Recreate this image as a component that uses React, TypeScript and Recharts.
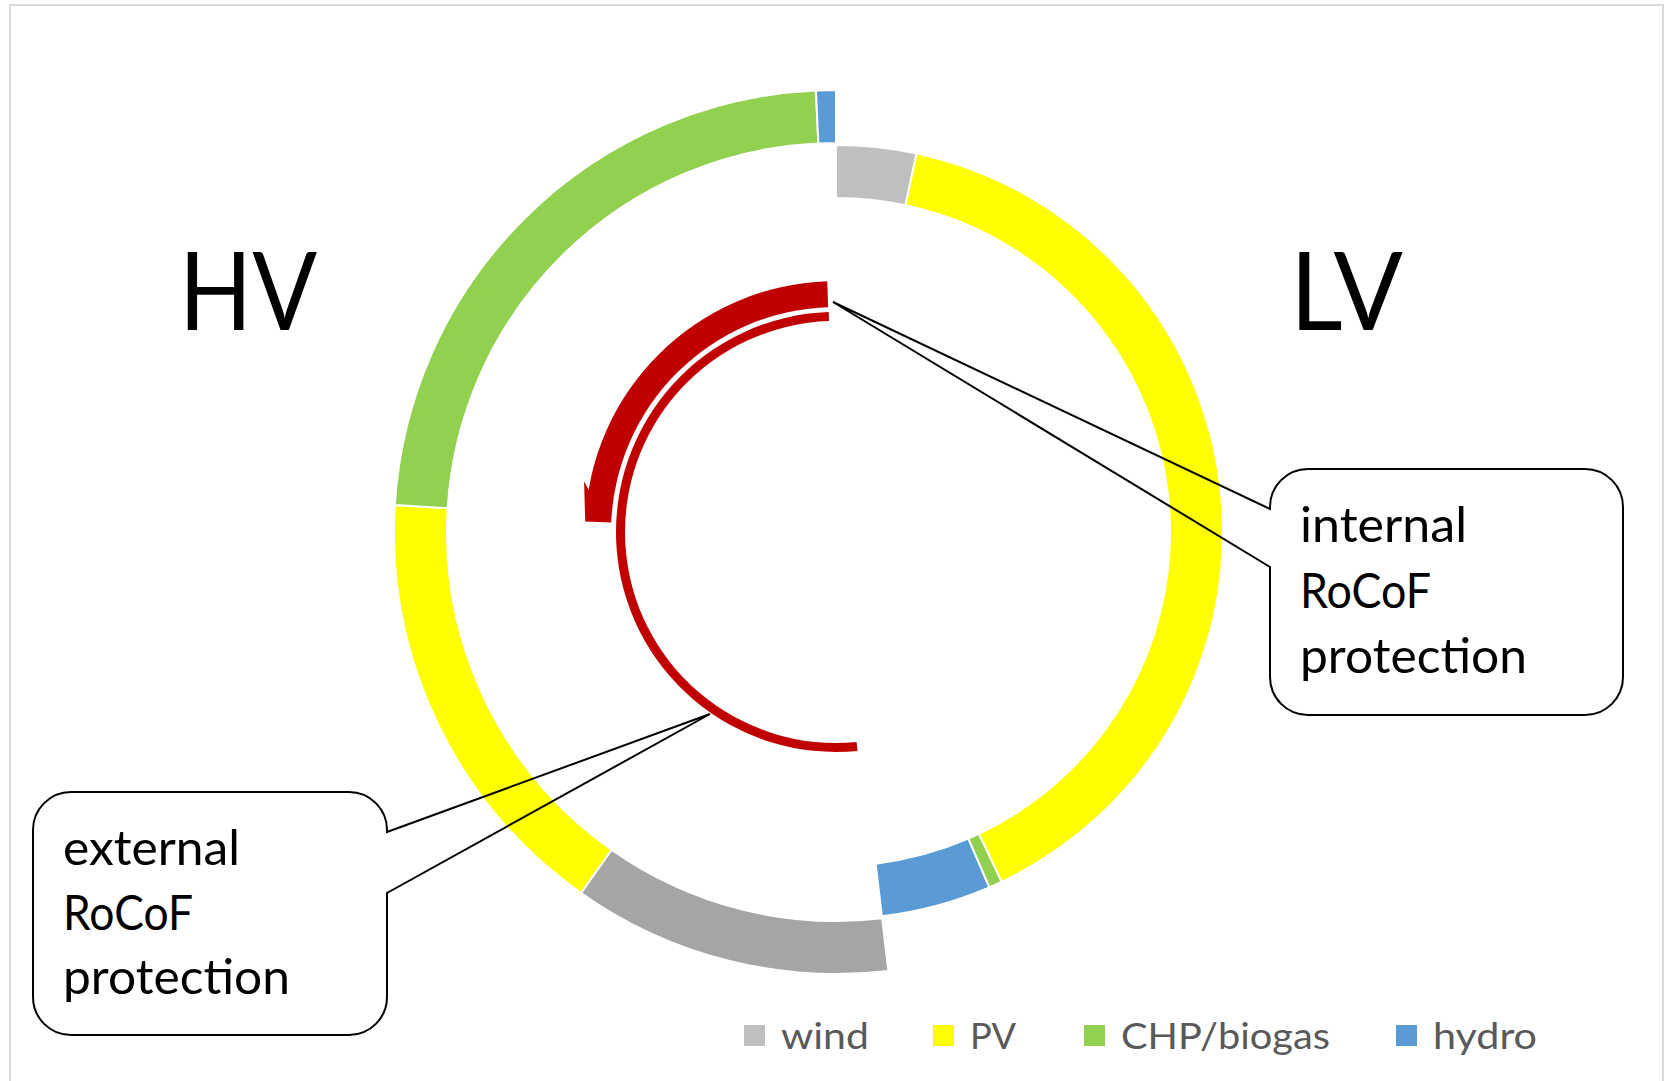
import { PieChart, Pie, Cell, Legend } from "recharts";

// installed capacity, as degrees of the ring, read clockwise from 12 o'clock
const categories = ["wind", "PV", "CHP/biogas", "hydro"];
const lvShare = [12, 142.5, 2, 16.5];
const hvShare = [42, 58.2, 83.8, 2.6];

// red protection arcs, degrees counterclockwise from 12 o'clock
const internalArc = { offset: 2, span: 85.6 };
const externalArc = { offset: 1.9, span: 183.7 };

const lvColors = ["#BFBFBF", "#FFFF00", "#92D050", "#5B9BD5"];
const hvColors = ["#A5A5A5", "#FFFF00", "#92D050", "#5B9BD5"];
const RED = "#C00000";
const FONT = "Lato, 'Open Sans', sans-serif";

const CX = 836;
const CY = 532;

const sum = (a: number[]) => a.reduce((s, v) => s + v, 0);

const lvData = [
  ...categories.map((name, i) => ({ name, value: lvShare[i] })),
  { name: "gap", value: sum(hvShare) },
];
const hvData = [
  { name: "gap", value: sum(lvShare) },
  ...categories.map((name, i) => ({ name, value: hvShare[i] })),
];
const arcData = (a: { offset: number; span: number }) => [
  { name: "gap", value: a.offset },
  { name: "arc", value: a.span },
  { name: "gap", value: 360 - a.offset - a.span },
];

const RAD = Math.PI / 180;
const polar = (cx: number, cy: number, r: number, deg: number) => [
  cx + r * Math.cos(-deg * RAD),
  cy + r * Math.sin(-deg * RAD),
];

function ArrowHead(props: any) {
  if (props.index !== 1) return null;
  const { cx, cy, outerRadius, endAngle } = props;
  const pts = [
    polar(cx, cy, outerRadius + 6, endAngle - 9),
    polar(cx, cy, outerRadius, endAngle),
    polar(cx, cy, outerRadius - 1, endAngle - 7),
  ];
  return <polygon points={pts.map((p) => p.join(",")).join(" ")} fill={RED} />;
}

function LegendContent() {
  const xs = [744, 933, 1084, 1396];
  const widths = [88, 46, 209, 104];
  return (
    <svg width={1667} height={60} style={{ display: "block" }}>
      {categories.map((c, i) => (
        <g key={c}>
          <rect x={xs[i]} y={15} width={21} height={21} fill={lvColors[i]} />
          <text
            x={xs[i] + 37}
            y={39}
            fontFamily={FONT}
            fontSize={37}
            fill="#595959"
            textLength={widths[i]}
            lengthAdjust="spacingAndGlyphs"
          >
            {c}
          </text>
        </g>
      ))}
    </svg>
  );
}

function calloutPath(
  x: number,
  y: number,
  w: number,
  h: number,
  r: number,
  side: "left" | "right",
  p1: number,
  p2: number,
  tip: number[]
) {
  const a = (ex: number, ey: number) => `A ${r} ${r} 0 0 1 ${ex} ${ey}`;
  if (side === "left") {
    return `M ${x + r} ${y} H ${x + w - r} ${a(x + w, y + r)} V ${y + h - r} ${a(x + w - r, y + h)} H ${x + r} ${a(x, y + h - r)} V ${p2} L ${tip[0]} ${tip[1]} L ${x} ${p1} V ${y + r} ${a(x + r, y)} Z`;
  }
  return `M ${x + r} ${y} H ${x + w - r} ${a(x + w, y + r)} V ${p1} L ${tip[0]} ${tip[1]} L ${x + w} ${p2} V ${y + h - r} ${a(x + w - r, y + h)} H ${x + r} ${a(x, y + h - r)} V ${y + r} ${a(x + r, y)} Z`;
}

function Annotations() {
  const textProps = { fontFamily: FONT, fontSize: 49, fill: "#000" };
  return (
    <svg
      width={1667}
      height={1081}
      style={{ position: "absolute", left: 0, top: 0, pointerEvents: "none" }}
    >
      <rect x={10} y={5} width={1653} height={1090} fill="none" stroke="#D9D9D9" strokeWidth={2} />
      <text x={179} y={330} fontFamily={FONT} fontSize={109} textLength={138} lengthAdjust="spacingAndGlyphs">
        HV
      </text>
      <text x={1290} y={330} fontFamily={FONT} fontSize={109} textLength={113} lengthAdjust="spacingAndGlyphs">
        LV
      </text>

      <path
        d={calloutPath(1270, 469, 353, 246, 38, "left", 509, 567, [833, 302])}
        fill="none"
        stroke="#000"
        strokeWidth={2}
      />
      <text x={1300} y={542} {...textProps} textLength={167} lengthAdjust="spacingAndGlyphs">internal</text>
      <text x={1300} y={608} {...textProps} textLength={131} lengthAdjust="spacingAndGlyphs">RoCoF</text>
      <text x={1300} y={673} {...textProps} textLength={227} lengthAdjust="spacingAndGlyphs">protection</text>

      <path
        d={calloutPath(33, 792, 354, 243, 38, "right", 832, 893, [710, 714])}
        fill="none"
        stroke="#000"
        strokeWidth={2}
      />
      <text x={63} y={865} {...textProps} textLength={177} lengthAdjust="spacingAndGlyphs">external</text>
      <text x={63} y={930} {...textProps} textLength={130} lengthAdjust="spacingAndGlyphs">RoCoF</text>
      <text x={63} y={994} {...textProps} textLength={227} lengthAdjust="spacingAndGlyphs">protection</text>
    </svg>
  );
}

export default function App() {
  return (
    <div
      style={{
        position: "absolute",
        left: 0,
        top: 0,
        width: 1667,
        height: 1081,
        background: "#fff",
      }}
    >
      <PieChart width={1667} height={1081} margin={{ top: 0, right: 0, bottom: 0, left: 0 }}>
        <Pie
          data={lvData}
          dataKey="value"
          nameKey="name"
          cx={CX}
          cy={CY}
          innerRadius={334}
          outerRadius={387}
          startAngle={90}
          endAngle={-270}
          isAnimationActive={false}
        >
          {lvData.map((d, i) => (
            <Cell
              key={i}
              fill={d.name === "gap" ? "none" : lvColors[i]}
              stroke={d.name === "gap" ? "none" : "#fff"}
              strokeWidth={2}
            />
          ))}
        </Pie>
        <Pie
          data={hvData}
          dataKey="value"
          nameKey="name"
          cx={CX}
          cy={CY}
          innerRadius={389}
          outerRadius={442}
          startAngle={90}
          endAngle={-270}
          isAnimationActive={false}
        >
          {hvData.map((d, i) => (
            <Cell
              key={i}
              fill={d.name === "gap" ? "none" : hvColors[i - 1]}
              stroke={d.name === "gap" ? "none" : "#fff"}
              strokeWidth={2}
            />
          ))}
        </Pie>
        <Pie
          data={arcData(internalArc)}
          dataKey="value"
          cx={CX}
          cy={CY}
          innerRadius={225}
          outerRadius={251}
          startAngle={90}
          endAngle={450}
          stroke="none"
          label={ArrowHead}
          labelLine={false}
          isAnimationActive={false}
        >
          {arcData(internalArc).map((d, i) => (
            <Cell key={i} fill={d.name === "arc" ? RED : "none"} stroke="none" />
          ))}
        </Pie>
        <Pie
          data={arcData(externalArc)}
          dataKey="value"
          cx={CX}
          cy={CY}
          innerRadius={211}
          outerRadius={220}
          startAngle={90}
          endAngle={450}
          stroke="none"
          isAnimationActive={false}
        >
          {arcData(externalArc).map((d, i) => (
            <Cell key={i} fill={d.name === "arc" ? RED : "none"} stroke="none" />
          ))}
        </Pie>
        <Legend
          verticalAlign="bottom"
          content={() => <LegendContent />}
          wrapperStyle={{ left: 0, top: 1010, width: 1667, height: 60, bottom: "auto" }}
        />
      </PieChart>
      <Annotations />
    </div>
  );
}
